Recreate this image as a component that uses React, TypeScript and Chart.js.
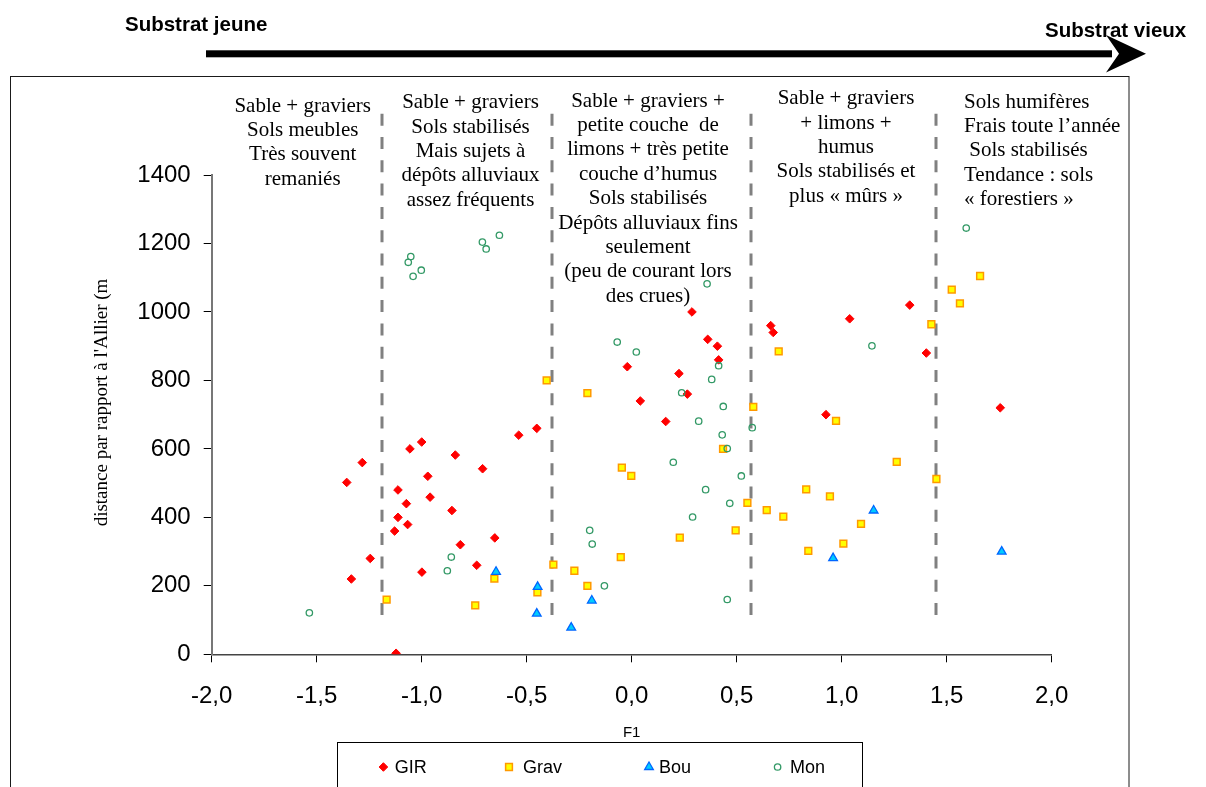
import React, { useEffect, useRef } from 'react';
import { Chart, registerables } from 'chart.js';

Chart.register(...registerables);

// ---------------- DATA ----------------
const SERIES_LABELS = ['GIR', 'Grav', 'Bou', 'Mon'];

const GIR_X = [-0.452, -0.538, -1.0, -1.056, -1.283, -0.84, -0.71, -1.357, -0.971, -1.113, -0.96, -1.073, -0.856, -1.113, -1.067, -1.129, -0.652, -0.816, -1.245, -0.738, -0.999, -1.335, -1.122, 0.287, 0.362, 0.408, 0.414, -0.021, 0.225, 0.265, 0.041, 0.162, 0.662, 0.674, 1.038, 1.324, 1.403, 0.925, 1.755];
const GIR_Y = [660, 640, 620, 600, 560, 582, 542, 502, 520, 480, 459, 440, 420, 400, 379, 360, 340, 320, 280, 260, 240, 220, 3, 1000, 920, 900, 860, 840, 820, 760, 740, 680, 960, 940, 980, 1020, 880, 700, 720];

const GRAV_X = [-1.167, -0.745, -0.654, -0.449, -0.373, -0.405, -0.211, 0.579, 0.435, -0.047, -0.002, 0.551, 0.643, 0.495, 0.229, -0.052, -0.273, -0.211, 0.7, 1.427, 1.659, 1.524, 1.563, 0.973, 1.262, 1.451, 0.831, 0.944, 0.722, 1.092, 1.008, 0.841];
const GRAV_Y = [160, 143, 221, 181, 262, 800, 763, 723, 600, 545, 521, 442, 421, 362, 341, 284, 244, 200, 885, 964, 1105, 1065, 1025, 682, 562, 512, 482, 461, 402, 381, 323, 302];

const BOU_X = [-0.646, -0.448, -0.452, -0.19, -0.288, 1.152, 0.959, 1.762];
const BOU_Y = [241, 197, 119, 157, 78, 420, 281, 300];

const MON_X = [-1.535, -0.859, -0.878, -1.052, -1.064, -1.002, -1.041, -0.711, -0.693, -0.63, 0.359, -0.069, 0.022, 0.414, 0.381, 0.238, 0.436, 0.319, 0.431, 0.455, 0.198, 0.574, 0.522, 0.352, 0.467, 0.29, -0.2, -0.188, -0.13, 0.455, 1.593, 1.144];
const MON_Y = [121, 284, 244, 1162, 1145, 1122, 1104, 1204, 1184, 1224, 1082, 912, 883, 843, 803, 764, 724, 681, 641, 601, 561, 662, 521, 481, 441, 401, 362, 322, 200, 160, 1245, 901];

const X_MIN = -2;
const X_MAX = 2;
const X_STEP = 0.5;
const Y_MIN = 0;
const Y_MAX = 1400;
const Y_STEP = 200;

const X_TITLE = 'F1';
const Y_TITLE = "distance par rapport à l'Allier (m";
const LEFT_LABEL = 'Substrat jeune';
const RIGHT_LABEL = 'Substrat vieux';

// zone boundaries on the F1 axis
const ZONE_BOUNDARIES = [-1.19, -0.38, 0.57, 1.45];
const DASH_TOP_VALUE = 1579;
const DASH_BOTTOM_VALUE = 112;

const ZONE1_TEXT = ['Sable + graviers', 'Sols meubles', 'Très souvent', 'remaniés'];
const ZONE2_TEXT = ['Sable + graviers', 'Sols stabilisés', 'Mais sujets à', 'dépôts alluviaux', 'assez fréquents'];
const ZONE3_TEXT = ['Sable + graviers +', 'petite couche  de', 'limons + très petite', 'couche d’humus', 'Sols stabilisés', 'Dépôts alluviaux fins', 'seulement', '(peu de courant lors', 'des crues)'];
const ZONE4_TEXT = ['Sable + graviers', '+ limons +', 'humus', 'Sols stabilisés et', 'plus « mûrs »'];
const ZONE5_TEXT = ['Sols humifères', 'Frais toute l’année', ' Sols stabilisés', 'Tendance : sols', '« forestiers »'];

// ---------------- STYLE / LAYOUT ----------------
const W = 1206;
const H = 787;
const SANS = "'Liberation Sans', Arial, Helvetica, sans-serif";
const SERIF = "'Liberation Serif', 'Times New Roman', Times, serif";

const CHART_LEFT = 211.7;
const CHART_RIGHT = 1051.7;
const CHART_TOP = 175;
const CHART_BOTTOM = 654.3;

const ZONE_LAYOUT = [
  { lines: ZONE1_TEXT, x: 302.7, y: 111.5, align: 'center' },
  { lines: ZONE2_TEXT, x: 470.5, y: 108.2, align: 'center' },
  { lines: ZONE3_TEXT, x: 648, y: 106.5, align: 'center' },
  { lines: ZONE4_TEXT, x: 846, y: 104.2, align: 'center' },
  { lines: ZONE5_TEXT, x: 964, y: 107.5, align: 'left' },
];
const ZONE_LINE_H = 24.4;

const LEGEND_MARKER_X = [383.4, 509, 649, 777.6];
const LEGEND_TEXT_X = [394.8, 523, 659, 790];
const LEGEND_Y = 767;

type PointStyleDef = { style: string; radius: number; bg: string; border: string; bw: number };
const STYLES: PointStyleDef[] = [
  { style: 'rectRot', radius: 4.3, bg: '#FF0000', border: '#FF0000', bw: 1 },
  { style: 'rect', radius: 4.8, bg: '#FFFF00', border: '#FF9900', bw: 1.5 },
  { style: 'triangle', radius: 5, bg: '#00CCFF', border: '#0066FF', bw: 1.3 },
  { style: 'circle', radius: 3.2, bg: 'rgba(255,255,255,0)', border: '#339966', bw: 1.3 },
];

function drawMarker(ctx: CanvasRenderingContext2D, s: PointStyleDef, x: number, y: number) {
  const r = s.radius;
  ctx.save();
  ctx.beginPath();
  if (s.style === 'rectRot') {
    ctx.moveTo(x - r, y);
    ctx.lineTo(x, y - r);
    ctx.lineTo(x + r, y);
    ctx.lineTo(x, y + r);
    ctx.closePath();
  } else if (s.style === 'rect') {
    const h = r * Math.SQRT1_2;
    ctx.rect(x - h, y - h, 2 * h, 2 * h);
  } else if (s.style === 'triangle') {
    let a = 0;
    ctx.moveTo(x + Math.sin(a) * r, y - Math.cos(a) * r);
    a += (2 * Math.PI) / 3;
    ctx.lineTo(x + Math.sin(a) * r, y - Math.cos(a) * r);
    a += (2 * Math.PI) / 3;
    ctx.lineTo(x + Math.sin(a) * r, y - Math.cos(a) * r);
    ctx.closePath();
  } else {
    ctx.arc(x, y, r, 0, Math.PI * 2);
  }
  ctx.fillStyle = s.bg;
  ctx.fill();
  ctx.lineWidth = s.bw;
  ctx.strokeStyle = s.border;
  ctx.stroke();
  ctx.restore();
}

const toPoints = (xs: number[], ys: number[]) => xs.map((x, i) => ({ x, y: ys[i] }));

const decorPlugin = {
  id: 'decor',
  beforeDatasetsDraw(chart: any) {
    const ctx: CanvasRenderingContext2D = chart.ctx;
    const xs = chart.scales.x;
    const ys = chart.scales.y;
    ctx.save();
    // dashed zone boundaries
    ctx.strokeStyle = '#808080';
    ctx.lineWidth = 3;
    ctx.setLineDash([12, 11.3]);
    const yTop = ys.getPixelForValue(DASH_TOP_VALUE);
    const yBot = ys.getPixelForValue(DASH_BOTTOM_VALUE);
    ZONE_BOUNDARIES.forEach((v) => {
      const px = Math.round(xs.getPixelForValue(v));
      ctx.beginPath();
      ctx.moveTo(px, yTop);
      ctx.lineTo(px, yBot);
      ctx.stroke();
    });
    ctx.setLineDash([]);
    // zone texts
    ctx.fillStyle = '#000';
    ctx.font = `21px ${SERIF}`;
    ctx.textBaseline = 'alphabetic';
    ZONE_LAYOUT.forEach((z) => {
      ctx.textAlign = z.align as CanvasTextAlign;
      z.lines.forEach((line, i) => {
        ctx.fillText(line, z.x, z.y + i * ZONE_LINE_H);
      });
    });
    ctx.restore();
  },
  afterDraw(chart: any) {
    const ctx: CanvasRenderingContext2D = chart.ctx;
    ctx.save();
    // top labels
    ctx.fillStyle = '#000';
    ctx.font = `bold 20.5px ${SANS}`;
    ctx.textAlign = 'left';
    ctx.textBaseline = 'alphabetic';
    ctx.fillText(LEFT_LABEL, 125, 30.7);
    ctx.fillText(RIGHT_LABEL, 1045, 36.7);
    // arrow
    ctx.fillRect(206, 50.3, 1112 - 206, 7);
    ctx.beginPath();
    ctx.moveTo(1146, 53.8);
    ctx.lineTo(1106, 35);
    ctx.lineTo(1119, 53.8);
    ctx.lineTo(1106, 72.5);
    ctx.closePath();
    ctx.fill();
    // outer frame
    ctx.strokeStyle = '#1a1a1a';
    ctx.lineWidth = 1;
    ctx.strokeRect(10.5, 76.5, 1118.5, 800);
    // y title
    ctx.save();
    ctx.translate(101.7, 402.5);
    ctx.rotate(-Math.PI / 2);
    ctx.font = `19px ${SERIF}`;
    ctx.textAlign = 'center';
    ctx.textBaseline = 'middle';
    ctx.fillText(Y_TITLE, 0, 0);
    ctx.restore();
    // legend box
    ctx.strokeStyle = '#000';
    ctx.lineWidth = 1;
    ctx.strokeRect(337.5, 742.5, 525, 80);
    ctx.font = `18px ${SANS}`;
    ctx.textAlign = 'left';
    ctx.textBaseline = 'middle';
    chart.data.datasets.forEach((ds: any, i: number) => {
      drawMarker(ctx, STYLES[i], LEGEND_MARKER_X[i], LEGEND_Y);
      ctx.fillStyle = '#000';
      ctx.fillText(ds.label, LEGEND_TEXT_X[i], LEGEND_Y + 1);
    });
    ctx.restore();
  },
};

export default function App() {
  const canvasRef = useRef<HTMLCanvasElement | null>(null);

  useEffect(() => {
    const canvas = canvasRef.current;
    if (!canvas) return;
    const seriesX = [GIR_X, GRAV_X, BOU_X, MON_X];
    const seriesY = [GIR_Y, GRAV_Y, BOU_Y, MON_Y];
    const datasets = SERIES_LABELS.map((label, i) => ({
      label,
      data: toPoints(seriesX[i], seriesY[i]),
      pointStyle: STYLES[i].style,
      pointRadius: STYLES[i].radius,
      pointBackgroundColor: STYLES[i].bg,
      pointBorderColor: STYLES[i].border,
      pointBorderWidth: STYLES[i].bw,
      showLine: false,
      order: SERIES_LABELS.length - i,
    }));

    const chart = new Chart(canvas, {
      type: 'scatter',
      data: { datasets },
      options: {
        responsive: false,
        animation: false,
        devicePixelRatio: 1,
        layout: {
          padding: { top: CHART_TOP, left: 0, right: W - CHART_RIGHT, bottom: 0 },
        },
        plugins: {
          legend: { display: false },
          tooltip: { enabled: false },
          title: { display: false },
        },
        scales: {
          x: {
            type: 'linear',
            position: 'bottom',
            min: X_MIN,
            max: X_MAX,
            ticks: {
              stepSize: X_STEP,
              autoSkip: false,
              maxRotation: 0,
              padding: 20,
              color: '#000',
              font: { family: SANS, size: 24 },
              callback: (v: any) => Number(v).toFixed(1).replace('.', ','),
            },
            grid: {
              display: true,
              drawOnChartArea: false,
              drawTicks: true,
              tickLength: 8,
              color: '#000',
              lineWidth: 1,
            },
            border: { display: true, color: '#444', width: 1.5 },
            title: {
              display: true,
              text: X_TITLE,
              color: '#000',
              font: { family: SANS, size: 15 },
              padding: { top: 0, bottom: 45 },
            },
            afterFit: (s: any) => {
              s.height = H - CHART_BOTTOM;
            },
          },
          y: {
            type: 'linear',
            position: 'left',
            min: Y_MIN,
            max: Y_MAX,
            ticks: {
              stepSize: Y_STEP,
              padding: 13,
              color: '#000',
              font: { family: SANS, size: 24 },
              callback: (v: any) => String(Math.round(Number(v))),
            },
            grid: {
              display: true,
              drawOnChartArea: false,
              drawTicks: true,
              tickLength: 8,
              color: '#000',
              lineWidth: 1,
            },
            border: { display: true, color: '#777', width: 2 },
            afterFit: (s: any) => {
              s.width = CHART_LEFT;
            },
          },
        },
      } as any,
      plugins: [decorPlugin],
    });
    return () => chart.destroy();
  }, []);

  return (
    <div style={{ position: 'fixed', left: 0, top: 0, width: W, height: H, background: '#fff' }}>
      <canvas ref={canvasRef} width={W} height={H} style={{ display: 'block', width: W, height: H }} />
    </div>
  );
}
